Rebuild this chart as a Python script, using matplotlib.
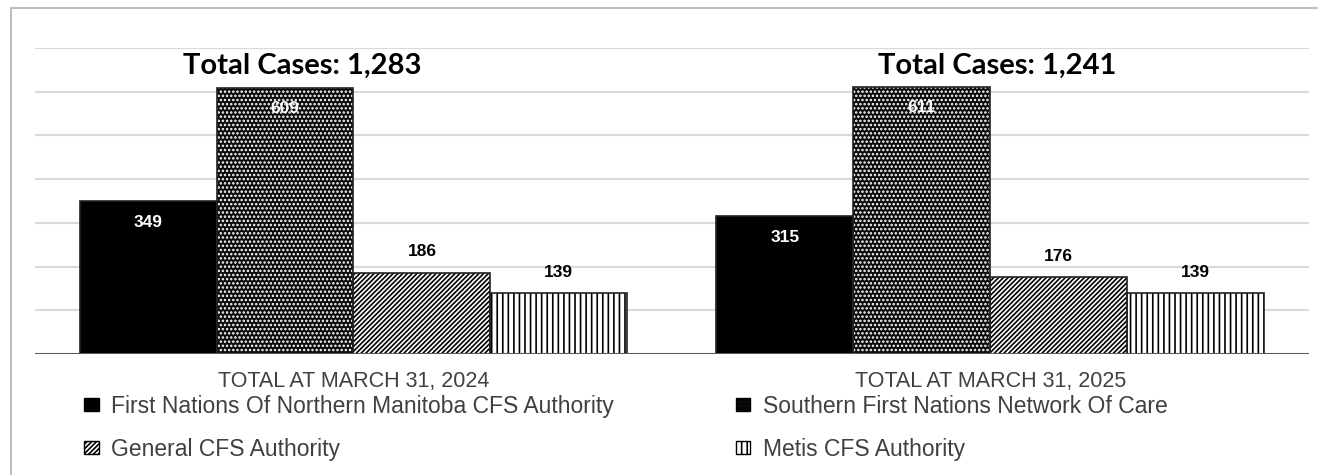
import matplotlib
matplotlib.use("Agg")
import matplotlib.pyplot as plt
from matplotlib.patches import Patch
import numpy as np

# case counts per authority at each year end
periods = ["TOTAL AT MARCH 31, 2024", "TOTAL AT MARCH 31, 2025"]
authorities = [
    "First Nations Of Northern Manitoba CFS Authority",
    "Southern First Nations Network Of Care",
    "General CFS Authority",
    "Metis CFS Authority",
]
first_nations_north = [349, 315]
southern_first_nations = [609, 611]
general_cfs = [186, 176]
metis_cfs = [139, 139]

series = [first_nations_north, southern_first_nations, general_cfs, metis_cfs]
totals = [sum(v) for v in zip(*series)]

# fill / hatch per authority
styles = [
    dict(face="black", hatch=None, hcol="black", label_in=True),
    dict(face="#0a0a0a", hatch="....", hcol="white", label_in=True),
    dict(face="white", hatch="///////", hcol="black", label_in=False),
    dict(face="white", hatch="|||", hcol="black", label_in=False),
]

plt.rcParams["font.family"] = ["Liberation Sans", "DejaVu Sans"]
plt.rcParams["hatch.linewidth"] = 1.2

fig = plt.figure(figsize=(13.18, 4.75), dpi=100)
ax = fig.add_axes([0.0266, 0.2547, 0.9664, 0.6443])

x = np.arange(len(periods))
w = 0.215
offsets = (np.arange(4) - 1.5) * w

for vals, st, off in zip(series, styles, offsets):
    # hatch drawn with its own colour, outline drawn separately
    ax.bar(x + off, vals, w, color=st["face"], hatch=st["hatch"],
           edgecolor=st["hcol"], linewidth=0, zorder=3)
    ax.bar(x + off, vals, w, fill=False, edgecolor="#222222",
           linewidth=1.2, zorder=4)
    for xi, v in zip(x + off, vals):
        if st["label_in"]:
            ax.annotate(str(v), (xi, v), xytext=(0, -15), textcoords="offset points",
                        ha="center", va="center", color="white",
                        fontsize=12.5, fontweight="bold", zorder=5)
        else:
            ax.annotate(str(v), (xi, v), xytext=(0, 15), textcoords="offset points",
                        ha="center", va="center", color="black",
                        fontsize=12.5, fontweight="bold", zorder=5)

# total heading above each group
title_x = [-0.08, 1.01]
for tx, t in zip(title_x, totals):
    ax.text(tx, 660, f"Total Cases: {t:,}", ha="center", va="center",
            fontsize=21, fontweight="bold", family=["Lato", "DejaVu Sans"], zorder=5)

ax.set_xlim(-0.5, 1.5)
ax.set_ylim(0, 700)
ax.set_yticks(np.arange(100, 701, 100))
ax.yaxis.grid(True, color="#d9d9d9", linewidth=1.5, zorder=0)
ax.set_axisbelow(True)
ax.tick_params(axis="y", left=False, labelleft=False)
ax.tick_params(axis="x", bottom=False, pad=9)
ax.set_xticks(x)
ax.set_xticklabels(periods, fontsize=15.5, color="#404040")
for s in ax.spines.values():
    s.set_visible(False)
ax.axhline(0, color="#595959", linewidth=2.2, zorder=6)

# legend, two columns
handles = [Patch(facecolor=st["face"], hatch=st["hatch"], edgecolor="black", label=name)
           for st, name in zip(styles, authorities)]
order = [0, 2, 1, 3]
fig.legend([handles[i] for i in order], [authorities[i] for i in order],
           loc="upper left", bbox_to_anchor=(0.048, 0.212), ncol=2, frameon=False,
           fontsize=16.5, handlelength=0.65, handleheight=0.5, handletextpad=0.55,
           columnspacing=5.3, labelspacing=0.88, labelcolor="#404040")

# outer frame lines
fig.add_artist(plt.Line2D([0.0083, 0.0083], [0, 0.983], color="#bfbfbf", lw=1.5))
fig.add_artist(plt.Line2D([0.0083, 1.0], [0.983, 0.983], color="#bfbfbf", lw=1.5))

fig.savefig("out.png", dpi=100, facecolor="white")
